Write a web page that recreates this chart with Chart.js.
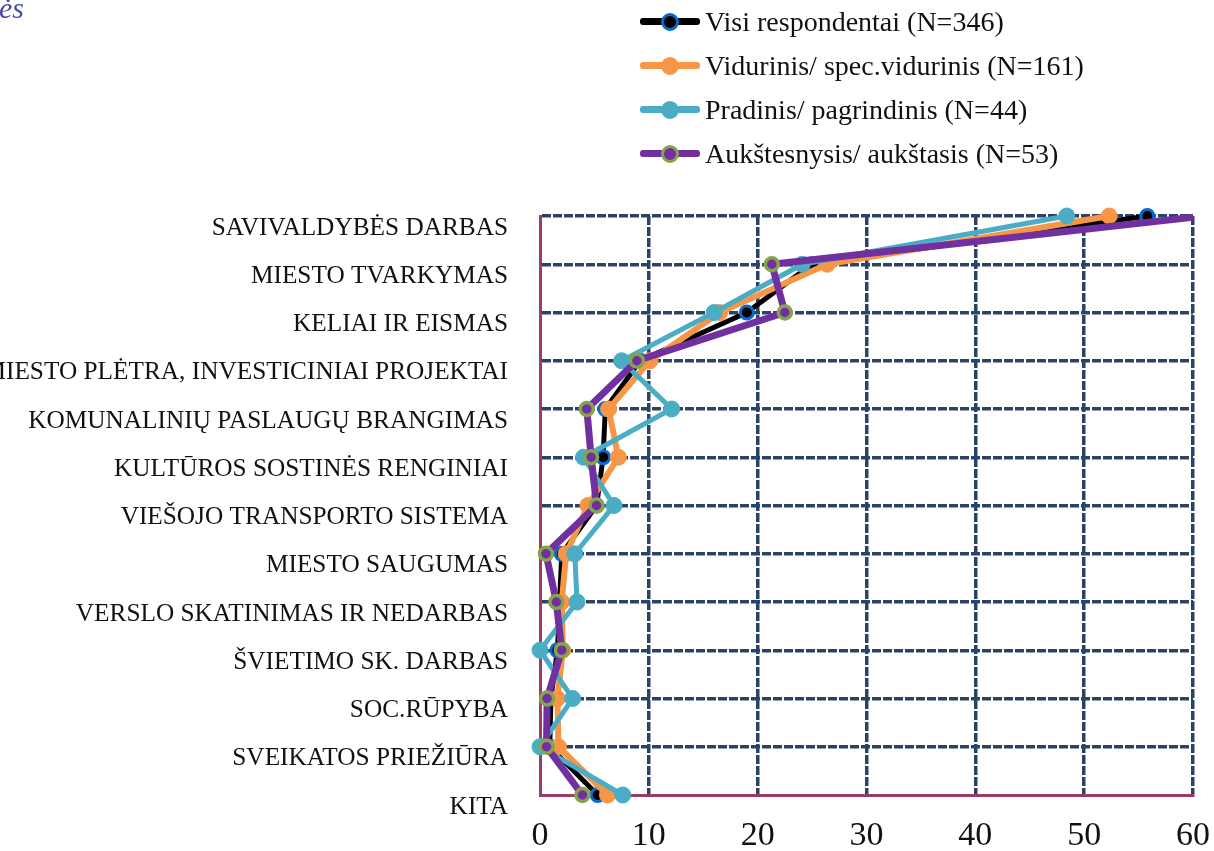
<!DOCTYPE html>
<html>
<head>
<meta charset="utf-8">
<script src="https://cdn.jsdelivr.net/npm/chart.js@4"></script>
<style>
  body { margin: 0; background: #fff; }
  #wrap { position: relative; width: 1214px; height: 851px; overflow: hidden; }
  #cut { position: absolute; left: -1px; top: -9px; font: italic 30px "Liberation Serif", serif; color: #4b4bab; }
  #legend { position: absolute; left: 640px; top: 0; font: 28px "Liberation Serif", serif; color: #111; }
  .row { height: 44px; display: flex; align-items: center; }
  .sym { position: relative; width: 60px; height: 20px; margin-right: 5px; }
  .sym .ln { position: absolute; left: 0; right: 0; top: 6px; height: 7px; border-radius: 3px; }
  .sym .mk { position: absolute; left: 21px; top: 1px; width: 12px; height: 12px; border-radius: 50%; border: 3px solid; }
</style>
</head>
<body>
<div id="wrap">
  <canvas id="surveyChart" width="1214" height="851"></canvas>
  <div id="cut">ės</div>
  <div id="legend"></div>
</div>
<script>
var categories = ["SAVIVALDYBĖS DARBAS", "MIESTO TVARKYMAS", "KELIAI IR EISMAS",
  "MIESTO PLĖTRA, INVESTICINIAI PROJEKTAI", "KOMUNALINIŲ PASLAUGŲ BRANGIMAS",
  "KULTŪROS SOSTINĖS RENGINIAI", "VIEŠOJO TRANSPORTO SISTEMA", "MIESTO SAUGUMAS",
  "VERSLO SKATINIMAS IR NEDARBAS", "ŠVIETIMO SK. DARBAS", "SOC.RŪPYBA",
  "SVEIKATOS PRIEŽIŪRA", "KITA"];
var seriesNames = ["Visi respondentai (N=346)", "Vidurinis/ spec.vidurinis (N=161)",
  "Pradinis/ pagrindinis (N=44)", "Aukštesnysis/ aukštasis (N=53)"];
var visi = [55.8, 25.0, 19.0, 9.2, 6.0, 5.8, 5.2, 2.0, 1.8, 1.6, 1.0, 0.9, 5.3];
var vidurinis = [52.3, 26.4, 16.5, 10.1, 6.3, 7.2, 4.4, 2.4, 2.0, 2.1, 1.6, 1.7, 6.2];
var pradinis = [48.4, 24.1, 16.0, 7.5, 12.1, 4.0, 6.8, 3.2, 3.4, 0, 3.0, 0, 7.6];
var aukstesnysis = [61, 21.3, 22.5, 8.9, 4.3, 4.7, 5.2, 0.55, 1.5, 2.0, 0.65, 0.6, 3.9];
var xTicks = [0, 10, 20, 30, 40, 50, 60];

var lineColors = ['#000000', '#f79646', '#4bacc6', '#7030a0'];
var markFill = ['#000000', '#f79646', '#4bacc6', '#7030a0'];
var markRing = ['#0a6acb', '#f79646', '#4bacc6', '#86a449'];

var serif = '"Liberation Serif", "Times New Roman", serif';
var gridColor = '#2b4466';
var axisColor = '#9c3a6a';

// legend (html, one item per row)
var legendBox = document.getElementById('legend');
seriesNames.forEach(function (name, i) {
  var row = document.createElement('div');
  row.className = 'row';
  row.innerHTML = '<span class="sym"><i class="ln" style="background:' + lineColors[i] + '"></i>' +
    '<i class="mk" style="background:' + markFill[i] + ';border-color:' + markRing[i] + '"></i></span>' +
    '<span>' + name + '</span>';
  legendBox.appendChild(row);
});

function series(i, data, width, radius, ring, order, clip) {
  return {
    label: seriesNames[i],
    data: data,
    borderColor: lineColors[i],
    backgroundColor: markFill[i],
    borderWidth: width,
    pointRadius: radius,
    pointBorderWidth: ring,
    pointBackgroundColor: markFill[i],
    pointBorderColor: markRing[i],
    tension: 0,
    order: order,
    clip: clip
  };
}

var ctx = document.getElementById('surveyChart');
var surveyChart = new Chart(ctx, {
  type: 'line',
  data: {
    labels: categories,
    datasets: [
      series(0, visi, 5, 6.5, 3, 3, 14),
      series(1, vidurinis, 6, 8, 1, 2, 14),
      series(2, pradinis, 5, 8, 1, 1, 14),
      series(3, aukstesnysis, 7, 6.5, 3.5, 0, {left: 14, top: 14, right: 0, bottom: 14})
    ]
  },
  options: {
    indexAxis: 'y',
    responsive: false,
    animation: false,
    layout: {
      padding: {top: 216, right: 21, bottom: 0, left: 0}
    },
    plugins: {
      legend: { display: false },
      tooltip: { enabled: false }
    },
    scales: {
      x: {
        type: 'linear',
        min: 0,
        max: 60,
        afterBuildTicks: function (scale) {
          scale.ticks = xTicks.map(function (v) { return {value: v}; });
        },
        afterFit: function (scale) {
          scale.height = 56;
          scale.paddingLeft = 0;
          scale.paddingRight = 0;
        },
        grid: {
          // no dashed line under the solid left axis
          color: function (c) { return c.tick && c.tick.value === 0 ? 'rgba(0,0,0,0)' : gridColor; },
          lineWidth: 3.5,
          drawTicks: false
        },
        border: { color: axisColor, width: 3, dash: [9, 2] },
        ticks: {
          padding: 21,
          color: '#111',
          font: { family: serif, size: 34 }
        }
      },
      y: {
        type: 'category',
        offset: false,
        afterFit: function (scale) {
          scale.width = 540;
          scale.paddingTop = 0;
          scale.paddingBottom = 0;
        },
        grid: {
          color: function (c) { return c.index === categories.length - 1 ? 'rgba(0,0,0,0)' : gridColor; },
          lineWidth: 3.5,
          drawTicks: false
        },
        border: { color: axisColor, width: 3, dash: [9, 2] },
        ticks: {
          padding: 32,
          labelOffset: 12,
          autoSkip: false,
          color: '#111',
          font: { family: serif, size: 25.3 }
        }
      }
    }
  }
});
</script>
</body>
</html>
